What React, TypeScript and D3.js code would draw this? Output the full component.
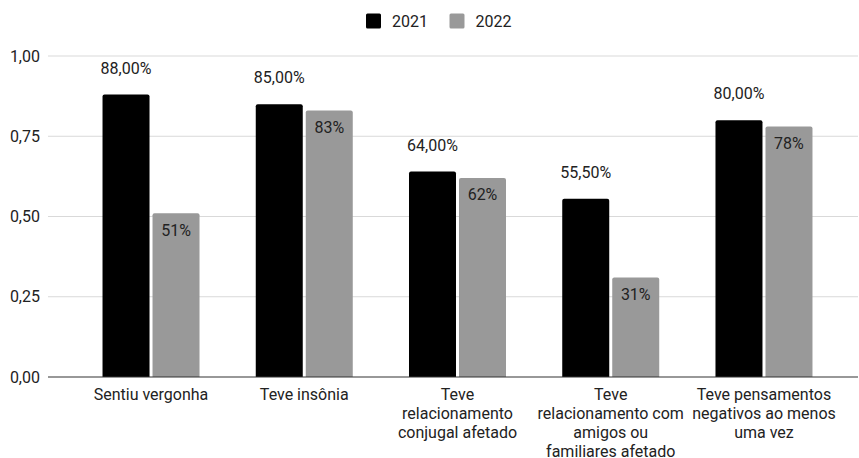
import React from "react";
import * as d3 from "d3";

const categories = [
  "Sentiu vergonha",
  "Teve insônia",
  "Teve relacionamento conjugal afetado",
  "Teve relacionamento com amigos ou familiares afetado",
  "Teve pensamentos negativos ao menos uma vez",
];
const categoryLines = [
  ["Sentiu vergonha"],
  ["Teve insônia"],
  ["Teve", "relacionamento", "conjugal afetado"],
  ["Teve", "relacionamento com", "amigos ou", "familiares afetado"],
  ["Teve pensamentos", "negativos ao menos", "uma vez"],
];
const seriesNames = ["2021", "2022"];
const values2021 = [0.88, 0.85, 0.64, 0.555, 0.8];
const values2022 = [0.51, 0.83, 0.62, 0.31, 0.78];
const yTicks = [0, 0.25, 0.5, 0.75, 1];
const colors = ["#000000", "#999999"];

const W = 859;
const H = 458;
const FONT = "Roboto, 'Noto Sans', sans-serif";
const FS = 16;

function topRounded(x: number, y: number, w: number, h: number, r: number) {
  const rr = Math.min(r, h / 2, w / 2);
  return `M${x},${y + h}V${y + rr}Q${x},${y} ${x + rr},${y}H${x + w - rr}Q${x + w},${y} ${x + w},${y + rr}V${y + h}Z`;
}

export default function App() {
  const x0 = d3
    .scaleBand<string>()
    .domain(categories)
    .range([74.4, 840.6])
    .paddingInner(0.367)
    .paddingOuter(0.1835);
  const x1 = d3
    .scaleBand<string>()
    .domain(seriesNames)
    .range([0, x0.bandwidth()])
    .paddingInner(0.06);
  const y = d3.scaleLinear().domain([0, 1]).range([377, 56]);
  const fmtTick = (v: number) => d3.format(".2f")(v).replace(".", ",");
  const fmt2021 = (v: number) => d3.format(".2%")(v).replace(".", ",");
  const fmt2022 = (v: number) => d3.format(".0%")(v);
  const seriesValues = [values2021, values2022];

  return (
    <svg
      width={W}
      height={H}
      style={{ position: "absolute", left: 0, top: 0, background: "#fff" }}
      fontFamily={FONT}
    >
      <rect width={W} height={H} fill="#fff" />
      {/* legend */}
      <g>
        <rect x={366} y={13.5} width={15} height={15} rx={1.5} fill={colors[0]} />
        <text x={392} y={27} fontSize={FS} fill="#222">
          {seriesNames[0]}
        </text>
        <rect x={449.5} y={13.5} width={15} height={15} rx={1.5} fill={colors[1]} />
        <text x={475.5} y={27} fontSize={FS} fill="#222">
          {seriesNames[1]}
        </text>
      </g>
      {/* grid */}
      {yTicks.map((t) => (
        <g key={t}>
          {t > 0 && (
            <line x1={48} x2={858} y1={y(t)} y2={y(t)} stroke="#d9d9d9" strokeWidth={1} />
          )}
          <text
            x={40}
            y={y(t)}
            dy="0.35em"
            textAnchor="end"
            fontSize={FS}
            fill="#222"
          >
            {fmtTick(t)}
          </text>
        </g>
      ))}
      {/* bars */}
      {categories.map((c, i) => (
        <g key={c} transform={`translate(${x0(c)},0)`}>
          {seriesNames.map((s, j) => {
            const v = seriesValues[j][i];
            const bx = x1(s)!;
            const bw = x1.bandwidth();
            const top = y(v);
            return (
              <g key={s}>
                <path d={topRounded(bx, top, bw, y(0) - top, 2)} fill={colors[j]} />
                {j === 0 ? (
                  <text
                    x={bx + bw / 2}
                    y={top - 21}
                    textAnchor="middle"
                    fontSize={FS}
                    fill="#222"
                  >
                    {fmt2021(v)}
                  </text>
                ) : (
                  <text
                    x={bx + bw / 2}
                    y={top + 22.5}
                    textAnchor="middle"
                    fontSize={FS}
                    fill="#222"
                  >
                    {fmt2022(v)}
                  </text>
                )}
              </g>
            );
          })}
        </g>
      ))}
      {/* axis line */}
      <line x1={48} x2={858} y1={y(0)} y2={y(0)} stroke="#333" strokeWidth={1.2} />
      {/* category labels */}
      {categories.map((c, i) => (
        <text
          key={c}
          x={x0(c)! + x0.bandwidth() / 2}
          y={400}
          textAnchor="middle"
          fontSize={FS}
          fill="#222"
        >
          {categoryLines[i].map((l, k) => (
            <tspan key={k} x={x0(c)! + x0.bandwidth() / 2} dy={k === 0 ? 0 : 19}>
              {l}
            </tspan>
          ))}
        </text>
      ))}
    </svg>
  );
}
